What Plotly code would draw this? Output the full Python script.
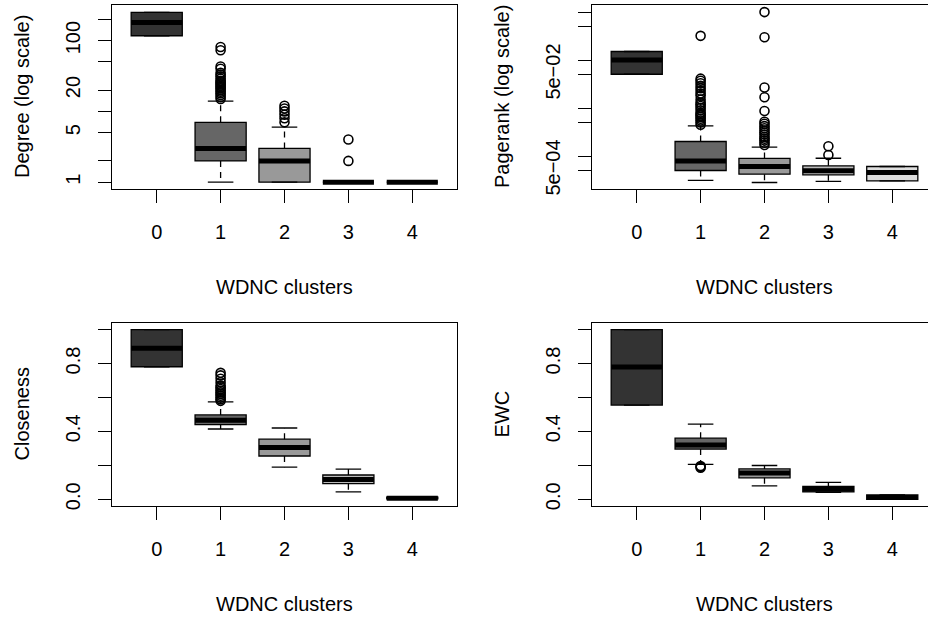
import plotly.graph_objects as go

W, H = 928, 617

# ---------------- data ----------------
clusters = ["0", "1", "2", "3", "4"]
positions = [1, 2, 3, 4, 5]
fills = ["#333333", "#666666", "#999999", "#BBBBBB", "#DDDDDD"]

# Degree (log scale)
deg_low = [117, 1, 1, 1, 1]
deg_q1 = [117, 2, 1, 1, 1]
deg_med = [180, 3, 2, 1, 1]
deg_q3 = [250, 7, 3, 1, 1]
deg_high = [250, 14, 6, 1, 1]
deg_out_1 = [15, 16, 17, 18, 19, 20, 21, 22, 23, 24, 25, 26, 27, 29, 31, 33, 35, 40, 43, 73, 81]
deg_out_2 = [7, 8, 9, 10, 11, 12]
deg_out_3 = [2, 4]

# Pagerank (log scale)
pr_low = [0.0507, 0.00031, 0.000281, 0.000295, 0.000303]
pr_q1 = [0.0507, 0.0005, 0.000419, 0.000405, 0.000303]
pr_med = [0.1007, 0.00079, 0.000605, 0.000495, 0.000454]
pr_q3 = [0.151, 0.00201, 0.00089, 0.000624, 0.000605]
pr_high = [0.151, 0.00425, 0.00153, 0.0009, 0.000605]
pr_out_1 = [0.0045, 0.005, 0.0055, 0.006, 0.0065, 0.007, 0.0075, 0.008, 0.009, 0.01,
            0.011, 0.012, 0.013, 0.015, 0.018, 0.02, 0.023, 0.026, 0.029, 0.033,
            0.037, 0.041, 0.32]
pr_out_2 = [0.0017, 0.0019, 0.0021, 0.0023, 0.0025, 0.0028, 0.0031, 0.0034, 0.0038,
            0.0042, 0.0047, 0.0052, 0.0087, 0.0168, 0.0268, 0.30, 1.0]
pr_out_3 = [0.00105, 0.0016]

# Closeness
cl_low = [0.781, 0.414, 0.189, 0.043, 0.002]
cl_q1 = [0.781, 0.440, 0.255, 0.092, 0.002]
cl_med = [0.890, 0.466, 0.305, 0.117, 0.006]
cl_q3 = [1.0, 0.497, 0.354, 0.143, 0.012]
cl_high = [1.0, 0.574, 0.420, 0.178, 0.012]
cl_out_1 = [0.58, 0.59, 0.60, 0.61, 0.62, 0.63, 0.64, 0.65, 0.66, 0.67, 0.69, 0.71, 0.73, 0.745]

# EWC
ewc_low = [0.555, 0.205, 0.079, 0.040, 0.0]
ewc_q1 = [0.555, 0.296, 0.126, 0.043, 0.0]
ewc_med = [0.779, 0.320, 0.154, 0.059, 0.011]
ewc_q3 = [1.0, 0.360, 0.179, 0.075, 0.026]
ewc_high = [1.0, 0.443, 0.199, 0.100, 0.026]
ewc_out_1 = [0.186, 0.191, 0.196]

y_titles = ["Degree (log scale)", "Pagerank (log scale)", "Closeness", "EWC"]
x_title = "WDNC clusters"

deg_ticks = [1, 2, 5, 10, 20, 50, 100, 200]
deg_ticklabels = ["1", "", "5", "", "20", "", "100", ""]
pr_ticks = [5e-4, 1e-3, 5e-3, 1e-2, 5e-2, 1e-1, 5e-1, 1]
pr_ticklabels = ["5e\u221204", "", "", "", "5e\u221202", "", "", ""]
lin_ticks = [0, 0.2, 0.4, 0.6, 0.8, 1.0]
lin_ticklabels = ["0.0", "", "0.4", "", "0.8", ""]

# ---------------- layout geometry (pixels) ----------------
FONT = "Liberation Sans, Arial, Helvetica, sans-serif"
FS = 20
LW = 1.3
BOXW = 0.8
STAPLE = 0.2
col_left = [112, 592]
col_right = [457, 928]
row_top = [5, 326]
row_bot = [191, 511]
px_per_unit = (457 - 112) / 5.4


def px_x(p):
    return p / W


def px_y(p):
    return 1 - p / H


fig = go.Figure()

panels = [
    dict(low=deg_low, q1=deg_q1, med=deg_med, q3=deg_q3, high=deg_high,
         outs={2: deg_out_1, 3: deg_out_2, 4: deg_out_3}, log=True,
         yr=[-0.098, 2.503], tv=deg_ticks, tt=deg_ticklabels),
    dict(low=pr_low, q1=pr_q1, med=pr_med, q3=pr_q3, high=pr_high,
         outs={2: pr_out_1, 3: pr_out_2, 4: pr_out_3}, log=True,
         yr=[-3.69, 0.149], tv=pr_ticks, tt=pr_ticklabels),
    dict(low=cl_low, q1=cl_q1, med=cl_med, q3=cl_q3, high=cl_high,
         outs={2: cl_out_1}, log=False,
         yr=[-0.04, 1.04], tv=lin_ticks, tt=lin_ticklabels),
    dict(low=ewc_low, q1=ewc_q1, med=ewc_med, q3=ewc_q3, high=ewc_high,
         outs={2: ewc_out_1}, log=False,
         yr=[-0.04, 1.04], tv=lin_ticks, tt=lin_ticklabels),
]

annotations = []
for i, p in enumerate(panels):
    col, row = i % 2, i // 2
    ax = "" if i == 0 else str(i + 1)
    xa, ya = "x" + ax, "y" + ax
    wx, wy, sx, sy = [], [], [], []
    for k in range(5):
        pos = positions[k]
        # dashed whiskers (hinge -> extreme) and solid staples
        wx += [pos, pos, None, pos, pos, None]
        wy += [p["q1"][k], p["low"][k], None, p["q3"][k], p["high"][k], None]
        sx += [pos - STAPLE, pos + STAPLE, None, pos - STAPLE, pos + STAPLE, None]
        sy += [p["low"][k], p["low"][k], None, p["high"][k], p["high"][k], None]
    fig.add_trace(go.Scatter(x=wx, y=wy, mode="lines",
                             line=dict(color="black", width=LW, dash="6px,5px"),
                             hoverinfo="skip", showlegend=False, xaxis=xa, yaxis=ya))
    fig.add_trace(go.Scatter(x=sx, y=sy, mode="lines",
                             line=dict(color="black", width=LW),
                             hoverinfo="skip", showlegend=False, xaxis=xa, yaxis=ya))
    for k in range(5):
        pos = positions[k]
        fig.add_trace(go.Box(
            x=[pos], q1=[p["q1"][k]], median=[p["med"][k]], q3=[p["q3"][k]],
            lowerfence=[p["q1"][k]], upperfence=[p["q3"][k]],
            width=BOXW, whiskerwidth=0, fillcolor=fills[k],
            line=dict(color="black", width=LW), boxpoints=False,
            hoverinfo="skip", showlegend=False, xaxis=xa, yaxis=ya))
        fig.add_trace(go.Scatter(
            x=[pos - BOXW / 2, pos + BOXW / 2], y=[p["med"][k], p["med"][k]],
            mode="lines", line=dict(color="black", width=5),
            hoverinfo="skip", showlegend=False, xaxis=xa, yaxis=ya))
    ox, oy = [], []
    for pos, vals in p["outs"].items():
        ox += [pos] * len(vals)
        oy += vals
    fig.add_trace(go.Scatter(
        x=ox, y=oy, mode="markers",
        marker=dict(symbol="circle-open", size=9, color="black", line=dict(width=1.6)),
        hoverinfo="skip", showlegend=False, xaxis=xa, yaxis=ya))

    x0, x1 = col_left[col], col_right[col]
    xr_hi = 0.3 + (x1 - x0) / px_per_unit
    y0, y1 = row_top[row], row_bot[row]
    common = dict(showgrid=False, zeroline=False, showline=True, linecolor="black",
                  linewidth=LW, ticks="outside", ticklen=13, tickwidth=LW,
                  tickcolor="black", tickfont=dict(family=FONT, size=FS, color="black"))
    xkey = "xaxis" + ax
    ykey = "yaxis" + ax
    fig.layout[xkey] = dict(domain=[px_x(x0), px_x(x1)], range=[0.3, xr_hi],
                            tickvals=positions, ticktext=clusters, mirror=True,
                            anchor=ya, ticklabelstandoff=12, **common)
    fig.layout[ykey] = dict(domain=[px_y(y1), px_y(y0)],
                            type="log" if p["log"] else "linear",
                            range=p["yr"], tickvals=p["tv"], ticktext=p["tt"],
                            mirror=(col == 0), anchor=xa, tickangle=-90,
                            ticklabelstandoff=10, **common)
    # axis titles
    center_x = x0 + 2.7 * px_per_unit
    annotations.append(dict(text=x_title, xref="paper", yref="paper",
                            x=px_x(center_x), y=px_y(y1 + 99), showarrow=False,
                            xanchor="center", yanchor="middle",
                            font=dict(family=FONT, size=FS, color="black")))
    annotations.append(dict(text=y_titles[i], xref="paper", yref="paper",
                            x=px_x(x0 - 90), y=px_y((y0 + y1) / 2), showarrow=False,
                            textangle=-90, xanchor="center", yanchor="middle",
                            font=dict(family=FONT, size=FS, color="black")))

fig.update_layout(width=W, height=H, margin=dict(l=0, r=0, t=0, b=0),
                  paper_bgcolor="white", plot_bgcolor="white",
                  annotations=annotations, boxmode="overlay")

fig.write_html("out.html", config={"displayModeBar": False},
               post_script="document.body.style.margin='0';document.body.style.overflow='hidden';")
